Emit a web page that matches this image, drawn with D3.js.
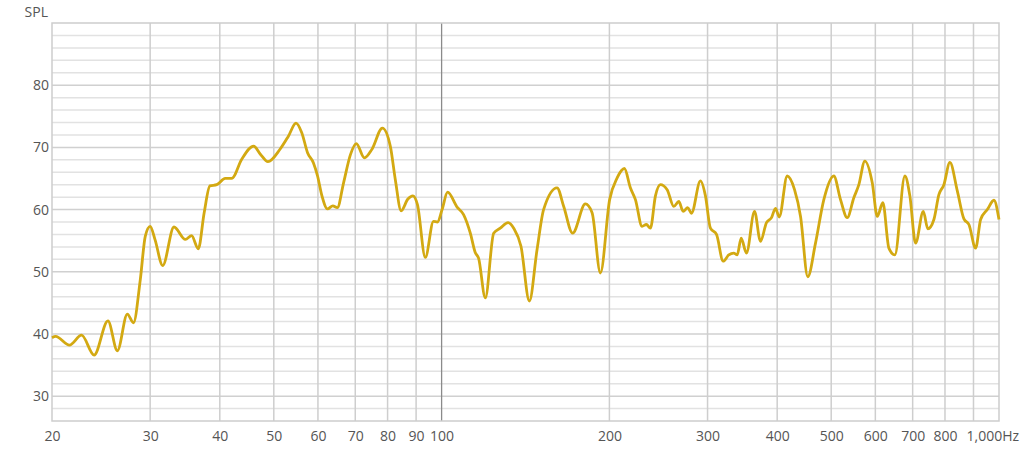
<!DOCTYPE html>
<html>
<head>
<meta charset="utf-8">
<script src="https://cdn.jsdelivr.net/npm/d3@7"></script>
<style>
  body { margin: 0; background: #fff; }
  svg text { font-family: "Open Sans", "Noto Sans", sans-serif; fill: #555; }
</style>
</head>
<body>
<div id="chart"></div>
<script>
// frequency (Hz) and SPL values
const freqs = [20.0, 20.3, 21.5, 22.6, 23.8, 25.2, 26.2, 27.3, 28.0, 28.8, 29.4, 30.0, 30.6, 31.6, 33.1, 34.7, 35.6, 36.6, 37.5, 38.4,
  39.5, 40.9, 42.0, 43.8, 46.0, 47.3, 48.8, 51.3, 53.1, 54.8, 56.1, 57.5, 58.9, 59.9, 61.0, 62.4, 63.8, 65.0, 66.7, 68.6,
  70.3, 72.7, 75.0, 78.3, 80.9, 82.6, 84.6, 87.0, 88.8, 90.5, 93.5, 96.7, 98.3, 100.2, 102.5, 106.6, 109.5, 112.6, 114.9, 116.5,
  119.8, 124.0, 127.4, 131.6, 134.7, 138.8, 143.7, 148.3, 152.4, 161.1, 165.6, 171.8, 181.1, 186.2, 192.7, 200.2, 206.5, 212.8, 218.1, 222.7,
  228.9, 233.0, 236.9, 241.9, 246.9, 253.9, 260.9, 266.4, 271.2, 276.4, 280.7, 291.3, 297.4, 303.6, 311.3, 320.0, 327.5, 334.3, 339.1, 344.7,
  352.3, 364.2, 373.3, 382.7, 390.7, 397.2, 403.4, 416.9, 429.7, 440.5, 453.9, 468.6, 485.0, 505.4, 519.6, 534.2, 549.0, 560.5, 574.5, 592.4,
  604.8, 618.9, 634.5, 650.4, 677.9, 692.0, 708.5, 731.4, 745.5, 764.2, 780.1, 796.4, 816.4, 841.8, 865.1, 883.1, 908.0, 926.9, 953.0, 979.3, 1000];
const spl = [39.4, 39.6, 38.2, 39.8, 36.6, 42.1, 37.3, 43.2, 41.8, 48.7, 55.7, 57.3, 55.2, 51.0, 57.2, 55.2, 55.8, 53.7, 59.5, 63.8,
  64.0, 65.0, 65.0, 68.1, 70.2, 68.9, 67.7, 69.7, 71.8, 73.9, 72.4, 69.1, 67.5, 65.4, 62.2, 60.1, 60.6, 60.3, 64.3, 68.8,
  70.6, 68.3, 69.7, 73.1, 70.2, 64.8, 59.8, 61.7, 62.2, 60.8, 52.3, 58.1, 58.0, 60.0, 62.8, 60.4, 59.2, 56.2, 53.1, 52.2,
  45.8, 56.2, 57.0, 57.9, 57.0, 54.1, 45.3, 53.5, 60.0, 63.5, 60.5, 56.2, 60.9, 59.5, 49.8, 61.6, 65.1, 66.6, 63.5, 61.6,
  57.3, 57.6, 57.0, 62.2, 64.0, 63.2, 60.5, 61.3, 59.7, 60.3, 59.4, 64.6, 62.2, 57.0, 56.0, 51.7, 52.7, 53.0, 52.7, 55.4,
  53.0, 59.7, 54.9, 57.9, 58.7, 60.2, 58.8, 65.4, 63.2, 58.9, 49.2, 54.6, 61.6, 65.4, 61.6, 58.7, 61.9, 64.0, 67.8, 64.3,
  58.9, 61.1, 53.8, 52.7, 65.4, 62.2, 54.6, 59.7, 56.9, 58.4, 62.4, 64.0, 67.6, 63.0, 58.5, 57.6, 53.8, 58.4, 60.0, 61.5, 58.4];

const xTicks = [20, 30, 40, 50, 60, 70, 80, 90, 100, 200, 300, 400, 500, 600, 700, 800, 1000];
const xGrid = [30, 40, 50, 60, 70, 80, 90, 100, 200, 300, 400, 500, 600, 700, 800, 900];
const yTicks = [30, 40, 50, 60, 70, 80];
const yGrid = d3.range(28, 90, 2);

const W = 1024, H = 452;
const margin = {top: 23, right: 25, bottom: 31, left: 52};

const x = d3.scaleLog().domain([20, 1000]).range([margin.left, W - margin.right]);
const y = d3.scaleLinear().domain([26, 90]).range([H - margin.bottom, margin.top]);

const svg = d3.select('#chart')
  .append('svg')
  .attr('width', W)
  .attr('height', H);

// horizontal gridlines
svg.append('g')
  .selectAll('line')
  .data(yGrid)
  .join('line')
  .attr('x1', margin.left)
  .attr('x2', W - margin.right)
  .attr('y1', d => y(d))
  .attr('y2', d => y(d))
  .attr('stroke', d => d % 10 === 0 ? '#d0d0d0' : '#e2e2e2')
  .attr('stroke-width', 1.5);

// vertical gridlines
svg.append('g')
  .selectAll('line')
  .data(xGrid)
  .join('line')
  .attr('x1', d => x(d))
  .attr('x2', d => x(d))
  .attr('y1', margin.top)
  .attr('y2', H - margin.bottom)
  .attr('stroke', d => d === 100 ? '#8a8a8a' : '#cecece')
  .attr('stroke-width', d => d === 100 ? 1.3 : 1.5);

// frame
svg.append('rect')
  .attr('x', margin.left)
  .attr('y', margin.top)
  .attr('width', W - margin.right - margin.left)
  .attr('height', H - margin.bottom - margin.top)
  .attr('fill', 'none')
  .attr('stroke', '#cdcdcd')
  .attr('stroke-width', 1.5);

// y axis labels
svg.append('g')
  .attr('transform', `translate(${margin.left},0)`)
  .style('font-size', '14px')
  .call(d3.axisLeft(y).tickValues(yTicks).tickSize(0).tickPadding(3))
  .call(g => g.select('.domain').remove())
  .selectAll('text').attr('fill', '#555');

// x axis labels
const xAxis = svg.append('g')
  .attr('transform', `translate(0,${H - margin.bottom})`)
  .style('font-size', '14px')
  .call(d3.axisBottom(x).tickValues(xTicks).tickSize(0).tickPadding(10)
    .tickFormat(d => d === 1000 ? '1,000Hz' : d))
  .call(g => g.select('.domain').remove());
xAxis.selectAll('text').attr('fill', '#555');
xAxis.selectAll('.tick')
  .filter(d => d === 1000)
  .select('text')
  .attr('text-anchor', 'start')
  .attr('x', -33);

svg.append('text')
  .attr('x', 48)
  .attr('y', 17)
  .attr('text-anchor', 'end')
  .style('font-size', '14px')
  .text('SPL');

const data = freqs.map((f, i) => ({f: f, v: spl[i]}));

const line = d3.line()
  .x(d => x(d.f))
  .y(d => y(d.v))
  .curve(d3.curveMonotoneX);

svg.append('path')
  .datum(data)
  .attr('fill', 'none')
  .attr('stroke', '#d3a912')
  .attr('stroke-width', 2.8)
  .attr('stroke-linejoin', 'round')
  .attr('d', line);
</script>
</body>
</html>
